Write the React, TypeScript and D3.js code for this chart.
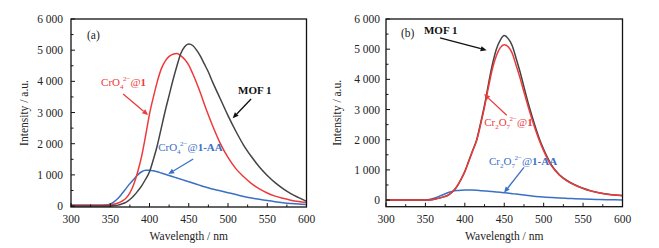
import React from "react";
import * as d3 from "d3";

// ---------- data ----------
const waveA = [300, 340, 350, 355, 360, 365, 370, 375, 380, 385, 390, 395, 400, 405, 410, 415, 420, 425, 430, 435, 440, 445, 450, 455, 460, 465, 470, 475, 480, 490, 500, 510, 520, 530, 540, 550, 560, 570, 580, 590, 600];
const mofA = [0, 0, 5, 15, 30, 70, 120, 210, 330, 480, 650, 860, 1100, 1500, 1950, 2500, 3050, 3550, 4050, 4500, 4900, 5120, 5200, 5150, 5000, 4800, 4550, 4300, 4000, 3450, 2900, 2400, 1950, 1580, 1250, 980, 750, 560, 400, 270, 150];
const cro4A = [30, 30, 40, 65, 100, 160, 250, 420, 700, 1100, 1600, 2250, 2950, 3500, 4000, 4400, 4650, 4800, 4870, 4890, 4820, 4700, 4520, 4250, 3950, 3620, 3260, 2920, 2600, 2020, 1560, 1200, 940, 720, 550, 420, 320, 250, 190, 145, 110];
const cro4AAA = [25, 25, 60, 140, 250, 400, 560, 720, 860, 1000, 1100, 1150, 1150, 1130, 1100, 1060, 1020, 980, 940, 900, 860, 820, 780, 740, 700, 660, 620, 585, 550, 490, 430, 370, 310, 260, 215, 175, 140, 110, 85, 65, 50];

const waveB = [300, 340, 350, 360, 370, 380, 385, 390, 395, 400, 405, 410, 415, 420, 425, 430, 435, 440, 445, 450, 455, 460, 465, 470, 475, 480, 485, 490, 495, 500, 510, 520, 530, 540, 550, 560, 570, 580, 590, 600];
const mofB = [0, 0, 0, 20, 80, 180, 290, 450, 680, 950, 1300, 1650, 2000, 2550, 3150, 3850, 4500, 5000, 5300, 5450, 5350, 5120, 4700, 4250, 3750, 3250, 2800, 2380, 2000, 1680, 1160, 840, 640, 500, 390, 305, 245, 200, 170, 150];
const cr2o7B = [0, 0, 0, 20, 80, 180, 290, 450, 680, 940, 1280, 1630, 1970, 2500, 3080, 3740, 4350, 4780, 5050, 5150, 5080, 4870, 4470, 4050, 3580, 3120, 2690, 2300, 1940, 1630, 1130, 820, 625, 490, 380, 300, 240, 195, 165, 145];
const cr2o7AAB = [0, 0, 5, 50, 150, 260, 295, 315, 328, 333, 333, 330, 322, 312, 302, 292, 281, 270, 257, 244, 229, 213, 197, 181, 165, 150, 136, 122, 110, 100, 82, 68, 55, 42, 32, 24, 17, 12, 8, 5];

const xTicks = [300, 350, 400, 450, 500, 550, 600];
const yTicks = [0, 1000, 2000, 3000, 4000, 5000, 6000];
const yTickLabels = ["0", "1 000", "2 000", "3 000", "4 000", "5 000", "6 000"];
const xMinor = d3.range(300, 601, 25);
const yMinor = d3.range(0, 6001, 500);

const BLACK = "#444444";
const RED = "#ee3a3a";
const BLUE = "#3a70c4";
const FONT = "Liberation Serif, Times New Roman, DejaVu Serif, serif";
const FS = 11.5;
const LFS = 11;

function Panel(props: {
  left: number;
  right: number;
  top: number;
  bottom: number;
  yMin: number;
  wave: number[];
  series: { vals: number[]; color: string }[];
  titleX: number;
  yLabelRight: number;
  tag: string;
  children: (x: d3.ScaleLinear<number, number>, y: d3.ScaleLinear<number, number>) => React.ReactNode;
}) {
  const { left, right, top, bottom, yMin, wave, series } = props;
  const x = d3.scaleLinear().domain([300, 600]).range([left, right]);
  const y = d3.scaleLinear().domain([yMin, 6000]).range([bottom, top]);
  const line = (vals: number[]) =>
    d3
      .line<number>()
      .x((_, i) => x(wave[i]))
      .y((v) => y(v))
      .curve(d3.curveMonotoneX)(vals) || "";
  return (
    <g>
      <defs>
        <clipPath id={"clip" + props.tag}>
          <rect x={left} y={top} width={right - left} height={bottom - top} />
        </clipPath>
      </defs>
      <g clipPath={`url(#clip${props.tag})`}>
        {series.map((s, i) => (
          <path key={i} d={line(s.vals)} fill="none" stroke={s.color} strokeWidth={1.5} />
        ))}
      </g>
      {xMinor.map((t) => (
        <line key={"xm" + t} x1={x(t)} x2={x(t)} y1={bottom} y2={bottom - (t % 50 === 0 ? 4 : 2.5)} stroke="#111" strokeWidth={1} />
      ))}
      {yMinor.map((t) => (
        <line key={"ym" + t} x1={left} x2={left + (t % 1000 === 0 ? 4 : 2.5)} y1={y(t)} y2={y(t)} stroke="#111" strokeWidth={1} />
      ))}
      <rect x={left} y={top} width={right - left} height={bottom - top} fill="none" stroke="#111" strokeWidth={1.3} />
      {xTicks.map((t) => (
        <text key={"xl" + t} x={x(t)} y={bottom + 16} textAnchor="middle" fontSize={FS} fill="#222" style={{ fontFamily: FONT }}>
          {t}
        </text>
      ))}
      {yTicks.map((t, i) => (
        <text key={"yl" + t} x={props.yLabelRight} y={y(t) + 4} textAnchor="end" fontSize={FS} fill="#222" style={{ fontFamily: FONT }}>
          {yTickLabels[i]}
        </text>
      ))}
      <text x={(left + right) / 2} y={bottom + 33} textAnchor="middle" fontSize={FS} fill="#222" style={{ fontFamily: FONT }}>
        Wavelength / nm
      </text>
      <text
        transform={`translate(${props.titleX},${(top + bottom) / 2}) rotate(-90)`}
        textAnchor="middle"
        fontSize={FS}
        fill="#222"
        style={{ fontFamily: FONT }}
      >
        Intensity / a.u.
      </text>
      {props.children(x, y)}
    </g>
  );
}

function Arrow({ x1, y1, x2, y2, color }: { x1: number; y1: number; x2: number; y2: number; color: string }) {
  const ang = Math.atan2(y2 - y1, x2 - x1);
  const L = 6,
    W = 2.6;
  const bx = x2 - L * Math.cos(ang),
    by = y2 - L * Math.sin(ang);
  const px = -Math.sin(ang) * W,
    py = Math.cos(ang) * W;
  return (
    <g>
      <line x1={x1} y1={y1} x2={bx} y2={by} stroke={color} strokeWidth={1.3} />
      <polygon points={`${x2},${y2} ${bx + px},${by + py} ${bx - px},${by - py}`} fill={color} />
    </g>
  );
}

function Ion(props: { x: number; y: number; color: string; kind: "cro4" | "cr2o7"; aa?: boolean }) {
  const { x, y, color, kind, aa } = props;
  return (
    <text x={x} y={y} fontSize={LFS} fill={color} style={{ fontFamily: FONT }}>
      {kind === "cro4" ? (
        <>
          <tspan>CrO</tspan>
          <tspan fontSize={7} dy={3}>4</tspan>
          <tspan fontSize={7} dy={-8} dx={-0.5}>2−</tspan>
        </>
      ) : (
        <>
          <tspan>Cr</tspan>
          <tspan fontSize={7} dy={3}>2</tspan>
          <tspan dy={-3}>O</tspan>
          <tspan fontSize={7} dy={3}>7</tspan>
          <tspan fontSize={7} dy={-8} dx={-0.5}>2−</tspan>
        </>
      )}
      <tspan dy={5}>@</tspan>
      <tspan fontWeight="bold">1</tspan>
      {aa ? <tspan fontWeight="bold">-AA</tspan> : null}
    </text>
  );
}

export default function App() {
  return (
    <svg width={659} height={248} style={{ position: "absolute", left: 0, top: 0, background: "#fff" }}>
      <Panel
        tag="a"
        left={71}
        right={306.5}
        top={19}
        bottom={207}
        yMin={-30}
        wave={waveA}
        series={[
          { vals: cro4AAA, color: BLUE },
          { vals: cro4A, color: RED },
          { vals: mofA, color: BLACK },
        ]}
        titleX={28}
        yLabelRight={63}
      >
        {(x, y) => (
          <g>
            <text x={x(320.4)} y={y(5358)} fontSize={FS} fill="#222" style={{ fontFamily: FONT }}>(a)</text>
            <Ion x={x(338.3)} y={y(3850)} color={RED} kind="cro4" />
            <Arrow x1={x(366.4)} y1={y(3593)} x2={x(398.3)} y2={y(2920)} color={RED} />
            <text x={x(512.8)} y={y(3593)} fontSize={LFS} fill="#111" fontWeight="bold" style={{ fontFamily: FONT }}>
              MOF 1
            </text>
            <Arrow x1={x(529.4)} y1={y(3433)} x2={x(505.9)} y2={y(2814)} color="#111" />
            <Ion x={x(411)} y={y(1765)} color={BLUE} kind="cro4" aa />
            <Arrow x1={x(455.7)} y1={y(1508)} x2={x(423.8)} y2={y(1027)} color={BLUE} />
          </g>
        )}
      </Panel>
      <Panel
        tag="b"
        left={386}
        right={622.5}
        top={19}
        bottom={206.7}
        yMin={-220}
        wave={waveB}
        series={[
          { vals: cr2o7AAB, color: BLUE },
          { vals: mofB, color: BLACK },
          { vals: cr2o7B, color: RED },
        ]}
        titleX={341}
        yLabelRight={380}
      >
        {(x, y) => (
          <g>
            <text x={x(319)} y={y(5388)} fontSize={FS} fill="#222" style={{ fontFamily: FONT }}>(b)</text>
            <text x={x(348.2)} y={y(5489)} fontSize={LFS} fill="#111" fontWeight="bold" style={{ fontFamily: FONT }}>
              MOF 1
            </text>
            <Arrow x1={x(368.5)} y1={y(5378)} x2={x(427.7)} y2={y(4963)} color="#111" />
            <Ion x={x(424.5)} y={y(2443)} color={RED} kind="cr2o7" />
            <Arrow x1={x(453.1)} y1={y(2811)} x2={x(424.3)} y2={y(3514)} color={RED} />
            <Ion x={x(430.7)} y={y(1171)} color={BLUE} kind="cr2o7" aa />
            <Arrow x1={x(475)} y1={y(1081)} x2={x(449.7)} y2={y(244)} color={BLUE} />
          </g>
        )}
      </Panel>
    </svg>
  );
}
